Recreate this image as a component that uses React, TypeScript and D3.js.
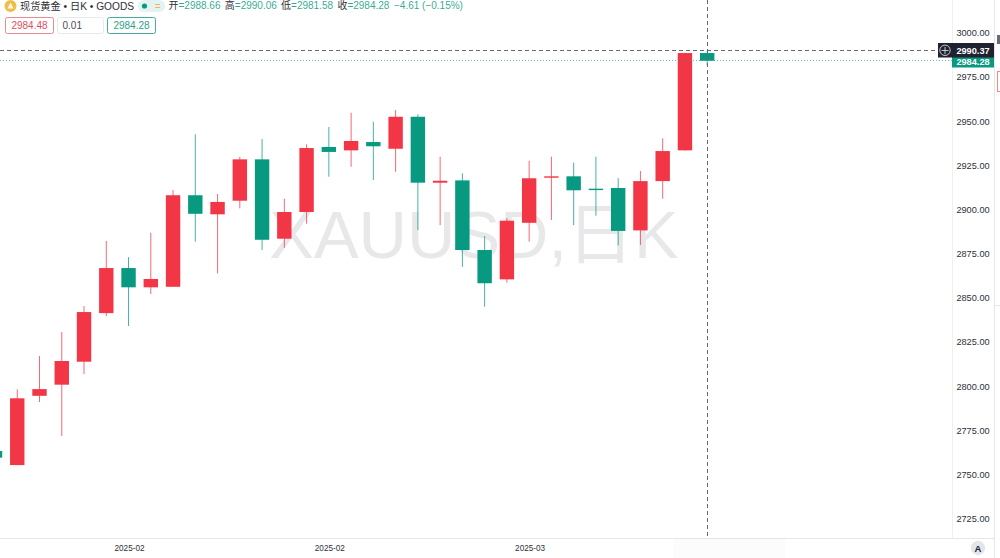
import React from "react";
import * as d3 from "d3";

const opens = [2763.5, 2755.5, 2794.7, 2801, 2814, 2841.5, 2867, 2856.1, 2856.4, 2908.2, 2897.4, 2905.1, 2928.5, 2883.6, 2898.7, 2935.5, 2933.6, 2938.3, 2934.5, 2952.6, 2915.3, 2916.6, 2877.2, 2860.6, 2892.6, 2918.1, 2918.9, 2911.9, 2912.3, 2888.3, 2916.2, 2933.6, 2988.66];
const highs = [2764, 2798.4, 2817.2, 2830.8, 2845.5, 2882.3, 2873.2, 2887, 2911.2, 2942.7, 2908.9, 2930, 2940, 2906.2, 2937, 2946.8, 2954.9, 2949.8, 2956.4, 2954, 2930, 2920.6, 2885.1, 2895.3, 2927.7, 2930, 2926.6, 2930, 2917.9, 2921.9, 2940.4, 2988.9, 2990.06];
const lows = [2759, 2755.5, 2791.2, 2771.9, 2807, 2839.8, 2834.2, 2852.3, 2856.4, 2881.9, 2864, 2900.8, 2877.2, 2878.5, 2892.1, 2918.7, 2924.3, 2916.8, 2921.5, 2888.5, 2891.3, 2867.7, 2845.1, 2858.7, 2881.9, 2894.2, 2891.3, 2896.6, 2879.9, 2880, 2906.2, 2933.4, 2981.58];
const closes = [2759.7, 2793.3, 2798.5, 2814.4, 2842.1, 2867, 2856.1, 2860.8, 2908.2, 2897.7, 2904.4, 2928.5, 2883, 2898.7, 2934.9, 2932.7, 2938.9, 2935.9, 2952.6, 2915.3, 2916.4, 2877.2, 2858.4, 2893.8, 2917.8, 2918.9, 2911, 2911.3, 2888, 2916.2, 2933.2, 2988.66, 2984.28];

const priceTicks = [3000, 2975, 2950, 2925, 2900, 2875, 2850, 2825, 2800, 2775, 2750, 2725];
const dateLabels = ["2025-02", "2025-02", "2025-03"];
const dateIndex = [6, 15, 24];
const crossPrice = 2990.37;
const lastPrice = 2984.28;
const ohlcLabels = ["开", "高", "低", "收"];
const ohlcValues = ["2988.66", "2990.06", "2981.58", "2984.28"];
const sellBox = "2984.48";
const spreadBox = "0.01";
const buyBox = "2984.28";
const watermark = "XAUUSD,日K";

const UP = "#f23645";
const DOWN = "#089981";
const FONT = "'Liberation Sans', 'Noto Sans CJK SC', sans-serif";

export default function App() {
  const y = d3.scaleLinear().domain([2725, 3000]).range([519, 33]);
  const x = d3.scaleLinear().domain([0, 32]).range([-5, 707.2]);
  const band = 14.4;
  const crossY = Math.floor(y(crossPrice)) + 0.5;
  const lastY = Math.floor(y(lastPrice)) + 0.5;
  const crossX = 707.5;

  return (
    <svg
      width={1000}
      height={558}
      style={{ position: "fixed", left: 0, top: 0, background: "#fff", fontFamily: FONT }}
    >
      <rect width={1000} height={558} fill="#fff" />

      {/* watermark */}
      <text x={474} y={258} textAnchor="middle" fontSize={67} fill="#e8e8ea" fontFamily={FONT}>
        {watermark}
      </text>

      {/* frame */}
      <line x1={952.5} x2={952.5} y1={0} y2={538} stroke="#eef0f3" />
      <line x1={0} x2={994} y1={538.5} y2={538.5} stroke="#e4e6ea" />
      <line x1={994.5} x2={994.5} y1={0} y2={558} stroke="#e4e6ea" />
      <rect x={673} y={539} width={112} height={19} fill="#fcfcfd" />

      {/* candles */}
      {opens.map((o, i) => {
        const c = closes[i];
        const col = c >= o ? UP : DOWN;
        const cx = x(i);
        const top = y(Math.max(o, c));
        const bot = y(Math.min(o, c));
        return (
          <g key={i}>
            <line x1={cx} x2={cx} y1={y(highs[i])} y2={y(lows[i])} stroke={col} strokeOpacity={0.75} strokeWidth={1} />
            <rect x={cx - band / 2} y={top} width={band} height={Math.max(bot - top, 1.4)} fill={col} />
          </g>
        );
      })}

      {/* last price line and crosshair */}
      <line x1={0} x2={952} y1={lastY} y2={lastY} stroke={DOWN} strokeOpacity={0.6} strokeDasharray="1 2" />
      <line x1={0} x2={938} y1={crossY} y2={crossY} stroke="#636774" strokeDasharray="4 3" />
      <line x1={crossX} x2={crossX} y1={0} y2={538} stroke="#636774" strokeDasharray="4 3" />

      {/* price axis */}
      {priceTicks.map((t) => (
        <text key={t} x={973} y={y(t) + 3.2} textAnchor="middle" fontSize={9.2} fill="#2e3038">
          {d3.format(".2f")(t)}
        </text>
      ))}

      {/* price labels */}
      <rect x={952} y={57} width={42} height={10.5} fill={DOWN} />
      <rect x={952} y={43} width={42} height={14.5} fill="#1f2230" />
      <text x={973} y={54} textAnchor="middle" fontSize={9.2} fontWeight={700} fill="#fff">
        {crossPrice.toFixed(2)}
      </text>
      <text x={973} y={64.5} textAnchor="middle" fontSize={9.2} fontWeight={700} fill="#fff">
        {lastPrice.toFixed(2)}
      </text>
      <rect x={938} y={43} width={15} height={14.5} fill="#1f2230" />
      <circle cx={945} cy={50.3} r={5.2} fill="none" stroke="#d8d9de" strokeWidth={0.9} />
      <path d="M941.5 50.5H948.5M945 47V54" stroke="#d8d9de" strokeWidth={0.9} />

      {/* right edge toolbar fragments */}
      <rect x={997} y={35} width={3} height={9} fill="#6a6c74" />
      <rect x={997.5} y={71.5} width={4} height={20} fill="#fff" stroke="#f28b82" />
      <line x1={995} x2={1000} y1={305.5} y2={305.5} stroke="#e4e6ea" />

      {/* date axis */}
      {dateLabels.map((d, i) => (
        <text key={i} x={x(dateIndex[i]) + 1} y={551} textAnchor="middle" fontSize={8.2} fill="#2e3038">
          {d}
        </text>
      ))}
      <circle cx={978} cy={548} r={7.2} fill="#e3e5ec" />
      <text x={978} y={551.5} textAnchor="middle" fontSize={9.5} fontWeight={700} fill="#20232b">A</text>

      {/* legend */}
      <circle cx={10.5} cy={6} r={6} fill="#efbe4a" />
      <path d="M10.5 2.5L13.5 8.5H7.5Z" fill="#fff" fillOpacity={0.9} />
      <text x={20} y={9.5} fontSize={10.2} fill="#2e3038">现货黄金 • 日K • GOODS</text>
      <rect x={138} y={0} width={27} height={12} rx={6} fill="#e3f3f1" />
      <circle cx={144.5} cy={6} r={2.6} fill={DOWN} />
      <path d="M155 4.5H160M155 7.5H160" stroke="#f5b26b" strokeWidth={1.2} />

      {ohlcLabels.map((l, i) => {
        const lx = 168.5 + i * 56.3;
        return (
          <g key={l}>
            <text x={lx} y={9} fontSize={10} fill="#2e3038">{l}</text>
            <text x={lx + 10} y={9} fontSize={10} fill={DOWN} fillOpacity={0.85}>={ohlcValues[i]}</text>
          </g>
        );
      })}
      <text x={394} y={9} fontSize={10} fill={DOWN} fillOpacity={0.85}>−4.61 (−0.15%)</text>

      {/* trade boxes */}
      <rect x={5.5} y={17.5} width={48} height={16} rx={2} fill="#fff" stroke="#e68a93" />
      <text x={29.5} y={29} textAnchor="middle" fontSize={10} fill="#d9515f">{sellBox}</text>
      <rect x={57.5} y={17.5} width={46} height={16} rx={2} fill="#fff" stroke="#e8e9ec" />
      <text x={62.5} y={29} fontSize={10} fill="#4a4d55">{spreadBox}</text>
      <rect x={107.5} y={17.5} width={48} height={16} rx={2} fill="#fff" stroke="#45ab9b" />
      <text x={131.5} y={29} textAnchor="middle" fontSize={10} fill="#2d9f8c">{buyBox}</text>
    </svg>
  );
}
